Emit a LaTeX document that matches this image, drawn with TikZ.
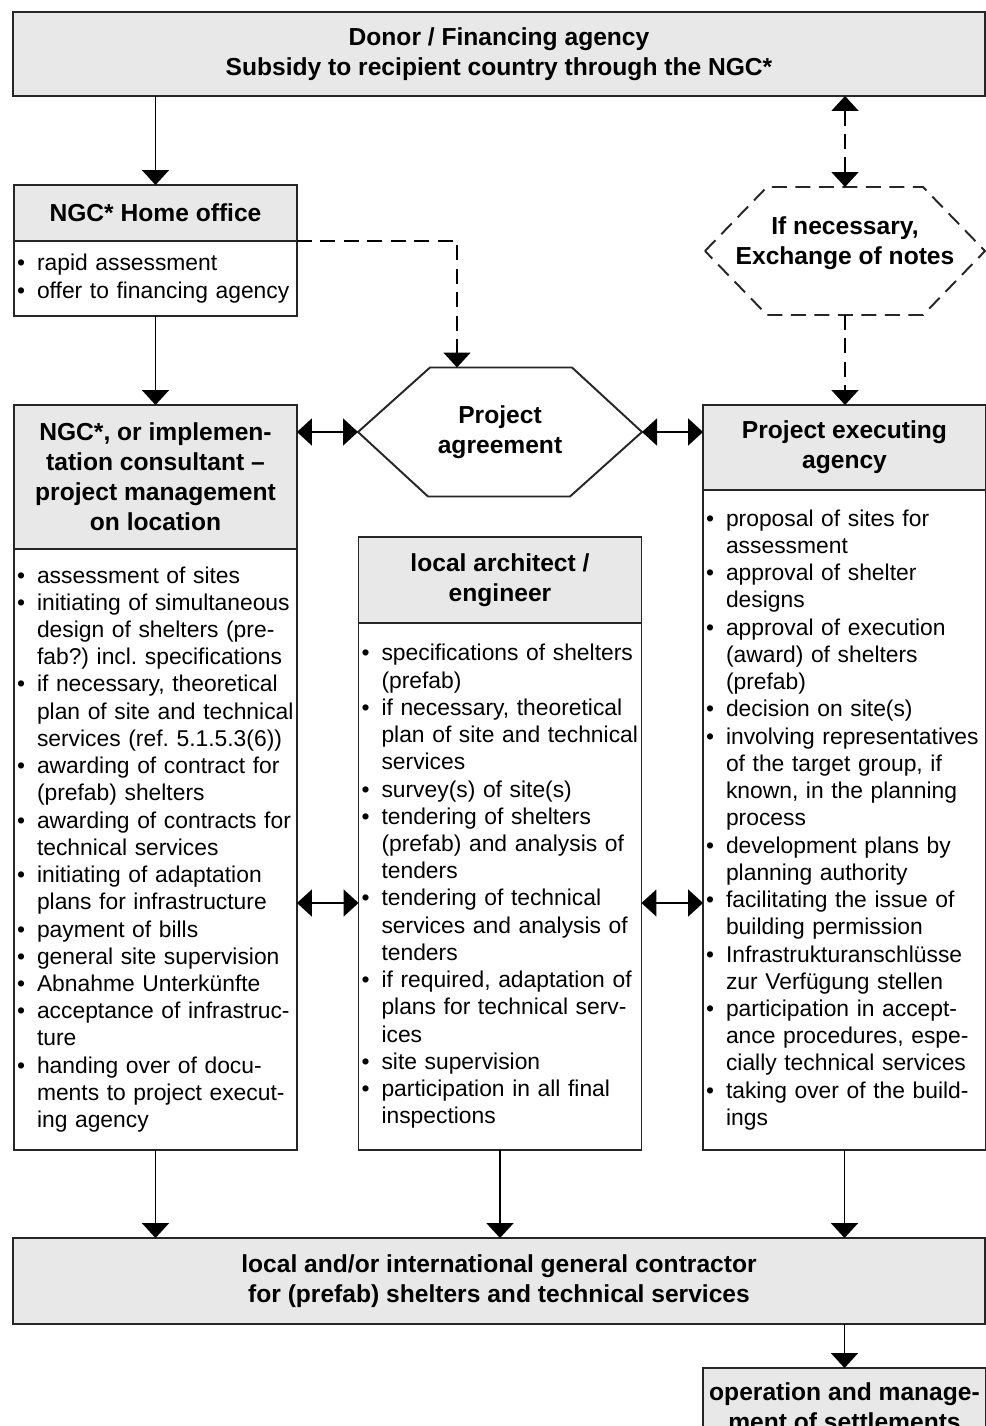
\documentclass[tikz,border=0pt]{standalone}
\usepackage{fontspec}
\setmainfont{Liberation Sans}
\usetikzlibrary{arrows.meta,positioning,calc}

\definecolor{boxgray}{gray}{0.91}

\newcommand{\bul}{\makebox[0.4cm][l]{\textbullet}}
\newcommand{\ind}{\hspace*{0.4cm}}

\tikzset{
  box/.style={rectangle, draw=black!85, line width=1.1pt, outer sep=0pt, inner sep=0pt},
  headbox/.style={box, fill=boxgray, align=center, font=\bfseries\fontsize{14}{17}\selectfont},
  listbox/.style={box, fill=white, align=left, text width=5.54cm, inner xsep=0.06cm,
    font=\fontsize{13}{15.5}\selectfont\frenchspacing},
  hexline/.style={draw=black!85, line width=1.1pt},
  arr/.style={line width=1.1pt, -{Triangle[width=0.54cm,length=0.3cm]}},
  dblarr/.style={line width=1.1pt, {Triangle[width=0.54cm,length=0.3cm]}-{Triangle[width=0.54cm,length=0.3cm]}},
  dashlink/.style={dash pattern=on 0.3cm off 0.17cm}
}

\begin{document}
\begin{tikzpicture}[x=0.02cm,y=-0.02cm]

    \useasboundingbox (0,0) rectangle (986,1426);
    \clip (0,0) rectangle (986,1426);

    % Donor
    \node[headbox, minimum width=19.44cm, minimum height=1.68cm] (donor) at (499,54)
      {Donor / Financing agency\\Subsidy to recipient country through the NGC*};

    % Home office
    \node[headbox, minimum width=5.66cm, minimum height=1.12cm] (homehead) at (155.5,213)
      {NGC* Home office};
    \node[listbox, below=0pt of homehead, minimum height=1.5cm] (homebody)
      {\bul rapid assessment\\ \bul offer to financing agency};

    % Exchange of notes (dashed hexagon)
    \coordinate (notesC) at (845,251);
    \coordinate (notesW) at ($(notesC)+(-140,0)$);
    \coordinate (notesE) at ($(notesC)+(140,0)$);
    \coordinate (notesN) at ($(notesC)+(0,-64)$);
    \coordinate (notesS) at ($(notesC)+(0,64)$);
    \draw[hexline, dashlink] (notesW) -- ++(62,-64) -- ++(156,0) -- (notesE)
      -- ++(-62,64) -- ++(-156,0) -- cycle;
    \node[font=\bfseries\fontsize{14}{17}\selectfont, align=center] (notes) at ($(notesC)+(0,-8)$)
      {If necessary,\\Exchange of notes};

    % Project agreement (hexagon)
    \node[font=\bfseries\fontsize{14}{17}\selectfont, align=center] (agree) at (500,432)
      {Project\\agreement};
    \coordinate (agreeW) at ($(agree.center)+(-142,0)$);
    \coordinate (agreeE) at ($(agree.center)+(142,0)$);
    \coordinate (agreeN) at (457,367.5);
    \draw[hexline] (agreeW) -- ++(72,-64.5) -- ++(142,0) -- (agreeE)
      -- ++(-72,64.5) -- ++(-142,0) -- cycle;

    % NGC / consultant on location
    \node[headbox, minimum width=5.66cm, minimum height=2.88cm] (ngchead) at (155.5,477)
      {NGC*, or implemen-\\tation consultant \textendash\\project management\\on location};
    \node[listbox, below=0pt of ngchead, minimum height=12.02cm] (ngcbody)
      {\bul assessment of sites\\
       \bul initiating of simultaneous\\
       \ind design of shelters (pre-\\
       \ind fab?) incl. specifications\\
       \bul if necessary, theoretical\\
       \ind plan of site and technical\\
       \ind services (ref. 5.1.5.3(6))\\
       \bul awarding of contract for\\
       \ind (prefab) shelters\\
       \bul awarding of contracts for\\
       \ind technical services\\
       \bul initiating of adaptation\\
       \ind plans for infrastructure\\
       \bul payment of bills\\
       \bul general site supervision\\
       \bul Abnahme Unterkünfte\\
       \bul acceptance of infrastruc-\\
       \ind ture\\
       \bul handing over of docu-\\
       \ind ments to project execut-\\
       \ind ing agency};

    % Local architect / engineer
    \node[headbox, minimum width=5.66cm, minimum height=1.72cm] (archhead) at (500,580)
      {local architect /\\engineer};
    \node[listbox, below=0pt of archhead, minimum height=10.54cm] (archbody)
      {\bul specifications of shelters\\
       \ind (prefab)\\
       \bul if necessary, theoretical\\
       \ind plan of site and technical\\
       \ind services\\
       \bul survey(s) of site(s)\\
       \bul tendering of shelters\\
       \ind (prefab) and analysis of\\
       \ind tenders\\
       \bul tendering of technical\\
       \ind services and analysis of\\
       \ind tenders\\
       \bul if required, adaptation of\\
       \ind plans for technical serv-\\
       \ind ices\\
       \bul site supervision\\
       \bul participation in all final\\
       \ind inspections};

    % Project executing agency
    \node[headbox, minimum width=5.66cm, minimum height=1.7cm] (exechead) at (844.5,447.5)
      {Project executing\\agency};
    \node[listbox, below=0pt of exechead, minimum height=13.2cm] (execbody)
      {\bul proposal of sites for\\
       \ind assessment\\
       \bul approval of shelter\\
       \ind designs\\
       \bul approval of execution\\
       \ind (award) of shelters\\
       \ind (prefab)\\
       \bul decision on site(s)\\
       \bul involving representatives\\
       \ind of the target group, if\\
       \ind known, in the planning\\
       \ind process\\
       \bul development plans by\\
       \ind planning authority\\
       \bul facilitating the issue of\\
       \ind building permission\\
       \bul Infrastrukturanschlüsse\\
       \ind zur Verfügung stellen\\
       \bul participation in accept-\\
       \ind ance procedures, espe-\\
       \ind cially technical services\\
       \bul taking over of the build-\\
       \ind ings};

    % General contractor
    \node[headbox, minimum width=19.44cm, minimum height=1.72cm] (contractor) at (499,1281)
      {local and/or international general contractor\\for (prefab) shelters and technical services};

    % Operation
    \node[headbox, anchor=north, minimum width=5.66cm, inner ysep=0.3cm] (operation) at (844.5,1368)
      {operation and manage-\\ment of settlements};

    % Connectors
    \coordinate (midrow) at (500,903);
    \draw[arr] (donor.south -| homehead.north) -- (homehead.north);
    \draw[arr] (homebody.south) -- (ngchead.north);
    \draw[arr, dashlink] (homehead.south east) -| (agreeN);
    \draw[dblarr, dashlink] (donor.south -| notesN) -- (notesN);
    \draw[arr, dashlink] (notesS) -- (notesS |- exechead.north);
    \draw[dblarr] (agreeW -| ngchead.east) -- (agreeW);
    \draw[dblarr] (agreeE) -- (agreeE -| exechead.west);
    \draw[dblarr] (midrow -| ngcbody.east) -- (midrow -| archbody.west);
    \draw[dblarr] (midrow -| archbody.east) -- (midrow -| execbody.west);
    \draw[arr] (ngcbody.south) -- (ngcbody.south |- contractor.north);
    \draw[arr] (archbody.south) -- (archbody.south |- contractor.north);
    \draw[arr] (execbody.south) -- (execbody.south |- contractor.north);
    \draw[arr] (contractor.south -| operation.north) -- (operation.north);

\end{tikzpicture}
\end{document}
